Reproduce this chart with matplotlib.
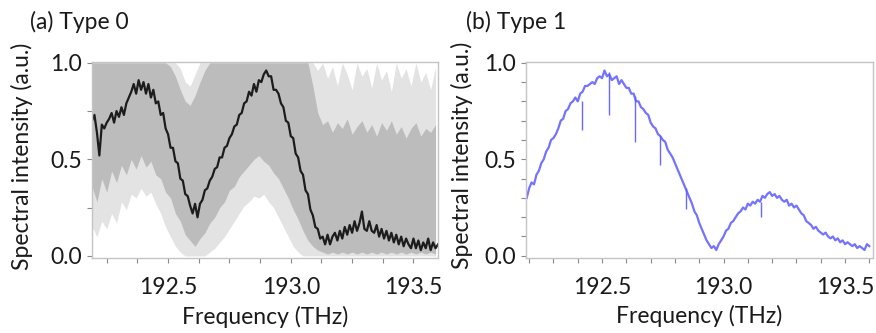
import numpy as np
import matplotlib
matplotlib.use("Agg")
import matplotlib.pyplot as plt
from matplotlib.ticker import MultipleLocator

plt.rcParams['font.family'] = ['Lato', 'DejaVu Sans']

# ---------------- data: panel (a) Type 0 ----------------
freq_a_start, freq_a_end = 192.19, 193.60
black_mean = [
    0.70, 0.73, 0.64, 0.52, 0.68, 0.66, 0.69, 0.71, 0.74, 0.69,
    0.75, 0.72, 0.77, 0.73, 0.79, 0.82, 0.85, 0.89, 0.84, 0.91,
    0.86, 0.90, 0.84, 0.89, 0.82, 0.86, 0.79, 0.80, 0.73, 0.74,
    0.66, 0.63, 0.56, 0.56, 0.49, 0.48, 0.40, 0.39, 0.32, 0.31,
    0.26, 0.22, 0.27, 0.20, 0.27, 0.29, 0.34, 0.35, 0.39, 0.41,
    0.45, 0.46, 0.51, 0.51, 0.56, 0.57, 0.61, 0.63, 0.67, 0.68,
    0.73, 0.74, 0.79, 0.80, 0.85, 0.83, 0.89, 0.85, 0.91, 0.90,
    0.94, 0.96, 0.93, 0.93, 0.86, 0.86, 0.84, 0.79, 0.77, 0.70,
    0.69, 0.62, 0.61, 0.53, 0.51, 0.44, 0.42, 0.34, 0.32, 0.24,
    0.21, 0.15, 0.14, 0.09, 0.10, 0.06, 0.11, 0.06, 0.10, 0.12,
    0.08, 0.13, 0.09, 0.15, 0.11, 0.16, 0.12, 0.18, 0.13, 0.17,
    0.23, 0.14, 0.13, 0.18, 0.13, 0.12, 0.16, 0.10, 0.14, 0.09,
    0.13, 0.08, 0.12, 0.07, 0.11, 0.06, 0.10, 0.05, 0.09, 0.06,
    0.04, 0.09, 0.04, 0.08, 0.03, 0.07, 0.04, 0.09, 0.03, 0.07,
    0.04, 0.06,
]
band_start, band_end = 192.19, 193.59
dark_hi = [
    1.00, 1.00, 1.00, 1.00, 1.00, 1.00, 1.00, 1.00, 1.00, 1.00,
    1.00, 1.00, 1.00, 1.00, 1.00, 1.00, 0.98, 0.93, 0.86, 0.80,
    0.78, 0.83, 0.90, 0.96, 1.00, 1.00, 1.00, 1.00, 1.00, 1.00,
    1.00, 1.00, 1.00, 1.00, 1.00, 1.00, 1.00, 1.00, 1.00, 1.00,
    1.00, 1.00, 1.00, 1.00, 1.00, 0.88, 0.74, 0.68, 0.70, 0.64,
    0.69, 0.66, 0.71, 0.63, 0.67, 0.70, 0.64, 0.68, 0.62, 0.69,
    0.65, 0.70, 0.63, 0.67, 0.61, 0.66, 0.69, 0.62, 0.66, 0.64,
    0.68,
]
light_hi = [
    1.00, 1.00, 1.00, 1.00, 1.00, 1.00, 1.00, 1.00, 1.00, 1.00,
    1.00, 1.00, 1.00, 1.00, 1.00, 1.00, 1.00, 1.00, 0.97, 0.90,
    0.88, 0.94, 1.00, 1.00, 1.00, 1.00, 1.00, 1.00, 1.00, 1.00,
    1.00, 1.00, 1.00, 1.00, 1.00, 1.00, 1.00, 1.00, 1.00, 1.00,
    1.00, 1.00, 1.00, 1.00, 1.00, 1.00, 0.96, 1.00, 0.92, 0.98,
    0.88, 1.00, 0.94, 0.86, 1.00, 0.93, 0.97, 0.87, 1.00, 0.91,
    0.96, 0.85, 1.00, 0.92, 0.97, 0.88, 1.00, 0.90, 0.95, 0.86,
    0.98,
]
dark_lo = [
    0.36, 0.28, 0.40, 0.33, 0.44, 0.38, 0.47, 0.42, 0.50, 0.45,
    0.52, 0.46, 0.49, 0.42, 0.40, 0.33, 0.30, 0.22, 0.18, 0.11,
    0.08, 0.05, 0.09, 0.12, 0.17, 0.20, 0.25, 0.28, 0.34, 0.36,
    0.41, 0.44, 0.47, 0.50, 0.52, 0.49, 0.47, 0.43, 0.40, 0.35,
    0.30, 0.24, 0.19, 0.13, 0.08, 0.05, 0.03, 0.02, 0.01, 0.02,
    0.01, 0.02, 0.01, 0.02, 0.01, 0.02, 0.01, 0.02, 0.01, 0.02,
    0.01, 0.02, 0.01, 0.02, 0.01, 0.02, 0.01, 0.02, 0.01, 0.02,
    0.01,
]
light_lo = [
    0.15, 0.10, 0.18, 0.14, 0.22, 0.17, 0.28, 0.24, 0.32, 0.30,
    0.35, 0.31, 0.33, 0.27, 0.22, 0.15, 0.10, 0.05, 0.02, 0.00,
    0.00, 0.00, 0.00, 0.00, 0.02, 0.04, 0.07, 0.10, 0.14, 0.18,
    0.22, 0.26, 0.28, 0.31, 0.30, 0.32, 0.28, 0.25, 0.20, 0.15,
    0.10, 0.05, 0.02, 0.00, 0.00, 0.00, 0.00, 0.00, 0.00, 0.00,
    0.00, 0.00, 0.00, 0.00, 0.00, 0.00, 0.00, 0.00, 0.00, 0.00,
    0.00, 0.00, 0.00, 0.00, 0.00, 0.00, 0.00, 0.00, 0.00, 0.00,
    0.00,
]

# ---------------- data: panel (b) Type 1 ----------------
freq_b_start, freq_b_end = 192.19, 193.60
blue = [
    0.30, 0.35, 0.38, 0.37, 0.42, 0.44, 0.48, 0.50, 0.54, 0.56,
    0.60, 0.61, 0.63, 0.66, 0.70, 0.71, 0.75, 0.76, 0.79, 0.80,
    0.82, 0.80, 0.84, 0.85, 0.88, 0.88, 0.89, 0.90, 0.89, 0.92,
    0.93, 0.92, 0.96, 0.93, 0.94, 0.91, 0.92, 0.93, 0.89, 0.91,
    0.89, 0.87, 0.87, 0.84, 0.84, 0.80, 0.80, 0.77, 0.76, 0.74,
    0.73, 0.69, 0.67, 0.66, 0.63, 0.62, 0.60, 0.59, 0.55, 0.53,
    0.51, 0.48, 0.45, 0.42, 0.39, 0.36, 0.33, 0.30, 0.27, 0.23,
    0.21, 0.17, 0.14, 0.11, 0.08, 0.06, 0.04, 0.05, 0.03, 0.06,
    0.08, 0.10, 0.13, 0.14, 0.17, 0.18, 0.20, 0.22, 0.23, 0.25,
    0.24, 0.27, 0.26, 0.28, 0.27, 0.29, 0.28, 0.31, 0.30, 0.32,
    0.33, 0.31, 0.32, 0.30, 0.31, 0.29, 0.28, 0.29, 0.26, 0.27,
    0.25, 0.26, 0.24, 0.22, 0.21, 0.18, 0.17, 0.16, 0.14, 0.15,
    0.13, 0.12, 0.11, 0.12, 0.10, 0.09, 0.10, 0.08, 0.09, 0.07,
    0.08, 0.06, 0.07, 0.06, 0.05, 0.06, 0.04, 0.05, 0.04, 0.03,
    0.06, 0.05,
]
dip_freq = [192.418, 192.527, 192.634, 192.740, 192.845, 193.153]
dip_top = [0.80, 0.95, 0.83, 0.62, 0.35, 0.28]
dip_bottom = [0.65, 0.73, 0.59, 0.47, 0.24, 0.20]

titles = ["(a) Type 0", "(b) Type 1"]
xlabel = "Frequency (THz)"
ylabel = "Spectral intensity (a.u.)"
xticks = [192.5, 193.0, 193.5]
yticks = [0.0, 0.5, 1.0]

# ---------------- figure ----------------
W, H = 876, 333
fig = plt.figure(figsize=(W / 100, H / 100), dpi=100)

def px_axes(x0, x1, y0, y1):
    return fig.add_axes([x0 / W, 1 - y1 / H, (x1 - x0) / W, (y1 - y0) / H])

axA = px_axes(92, 438, 62, 257.7)
axB = px_axes(526, 873, 62, 257.5)

spine_col = "#c4c4c4"
tick_col = "#8a8a8a"
fs = 16.5

fa = np.linspace(freq_a_start, freq_a_end, len(black_mean))
fband = np.linspace(band_start, band_end, len(dark_hi))
axA.fill_between(fband, light_lo, light_hi, color="#e3e3e3", lw=0)
axA.fill_between(fband, dark_lo, dark_hi, color="#bcbcbc", lw=0)
axA.plot(fa, black_mean, color="#1c1c1c", lw=1.6)
axA.set_xlim(192.19, 193.60)
axA.xaxis.set_minor_locator(MultipleLocator(0.125))
axA.yaxis.set_minor_locator(MultipleLocator(0.25))

fb = np.linspace(freq_b_start, freq_b_end, len(blue))
axB.plot(fb, blue, color="#5a5aff", lw=1.6, alpha=0.85)
axB.vlines(dip_freq, dip_bottom, dip_top, color="#5a5aff", lw=1.0, alpha=0.9)
axB.set_xlim(192.187, 193.615)
axB.xaxis.set_minor_locator(MultipleLocator(0.1))
axB.yaxis.set_minor_locator(MultipleLocator(0.1))

for ax, title, yl_x, tx in [(axA, titles[0], -0.17, 30),
                            (axB, titles[1], -0.153, 466)]:
    ax.set_ylim(-0.009, 1.004)
    ax.set_xticks(xticks)
    ax.set_xticklabels(["192.5", "193.0", "193.5"])
    ax.set_yticks(yticks)
    ax.set_yticklabels(["0.0", "0.5", "1.0"])
    for s in ax.spines.values():
        s.set_color(spine_col)
        s.set_linewidth(1.0)
    ax.tick_params(which="both", direction="out", length=3.6, width=0.8,
                   color=tick_col, labelsize=fs, labelcolor="#1a1a1a")
    ax.tick_params(axis="x", which="both", pad=10.5)
    ax.tick_params(axis="y", which="both", pad=3.5)
    ax.set_xlabel(xlabel, fontsize=fs, color="#1a1a1a")
    ax.set_ylabel(ylabel, fontsize=fs, color="#1a1a1a")
    ax.xaxis.set_label_coords(0.5, -0.245)
    ax.yaxis.set_label_coords(yl_x, 0.52)
    fig.text(tx / W, 1 - 29 / H, title, fontsize=fs, va="baseline",
             ha="left", color="#1a1a1a")

fig.savefig("out.png", dpi=100)
